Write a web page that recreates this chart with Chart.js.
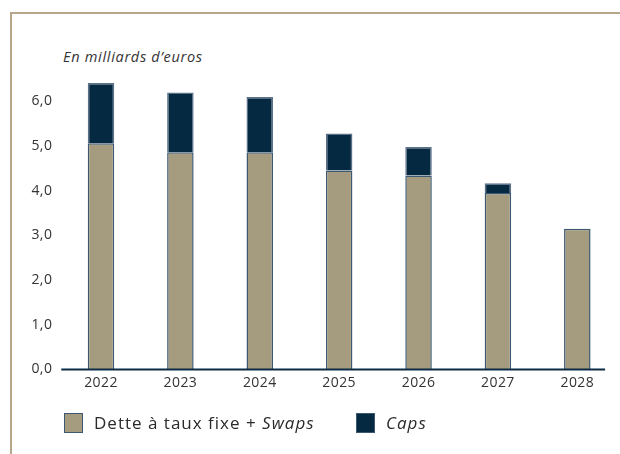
<!DOCTYPE html>
<html>
<head>
<meta charset="utf-8">
<script src="https://cdn.jsdelivr.net/npm/chart.js@4/dist/chart.umd.min.js"></script>
<style>
  html, body { margin: 0; padding: 0; background: #fff; }
  #wrap { position: relative; width: 620px; height: 454px; overflow: hidden; font-family: "Open Sans", sans-serif; }
  #frame { position: absolute; left: 10px; top: 12px; width: 620px; height: 460px; border-top: 2px solid #b4a78a; border-left: 2px solid #b4a78a; box-sizing: border-box; }
  #title { position: absolute; left: 63px; top: 47px; font-size: 14.5px; letter-spacing: 0.7px; font-style: italic; color: #333; white-space: nowrap; }
  canvas { position: absolute; left: 0; top: 0; }
  .leg { position: absolute; top: 411px; display: flex; align-items: center; font-size: 17px; letter-spacing: 1px; color: #2a2a2a; white-space: nowrap; }
  .box { width: 19px; height: 20px; box-sizing: border-box; border: 1.5px solid #3d5871; margin-right: 11px; }
</style>
</head>
<body>
<div id="wrap">
  <div id="frame"></div>
  <div id="title">En milliards d’euros</div>
  <canvas id="c" width="620" height="454"></canvas>
  <div class="leg" style="left:64px"><span class="box" style="background:#a59b7f"></span><span>Dette à taux fixe + <i>Swaps</i></span></div>
  <div class="leg" style="left:356px"><span class="box" style="background:#062942"></span><span><i>Caps</i></span></div>
</div>
<script>
const years = ['2022', '2023', '2024', '2025', '2026', '2027', '2028'];
const fixedSwaps = [5.06, 4.86, 4.86, 4.45, 4.34, 3.95, 3.15];
const caps = [1.35, 1.34, 1.24, 0.83, 0.64, 0.22, 0];
const yTicks = [0, 1, 2, 3, 4, 5, 6];

const baseline = {
  id: 'baseline',
  beforeDraw(chart) { chart.ctx.letterSpacing = '0.4px'; },
  afterDatasetsDraw(chart) {
    const { ctx, chartArea, scales } = chart;
    const y = scales.y.getPixelForValue(0);
    const xEnd = scales.x.getPixelForValue(years.length - 1) + scales.x.width / years.length * 0.35;
    ctx.save();
    ctx.strokeStyle = '#0b2a45';
    ctx.lineWidth = 2.2;
    ctx.beginPath();
    ctx.moveTo(chartArea.left, y);
    ctx.lineTo(xEnd, y);
    ctx.stroke();
    ctx.restore();
  }
};

new Chart(document.getElementById('c'), {
  type: 'bar',
  data: {
    labels: years,
    datasets: [
      { label: 'Dette à taux fixe + Swaps', data: fixedSwaps, backgroundColor: '#a59b7f', borderColor: '#3d5871', borderWidth: 1.5 },
      { label: 'Caps', data: caps, backgroundColor: '#062942', borderColor: '#5b7189', borderWidth: 1.5 }
    ]
  },
  options: {
    responsive: false,
    animation: false,
    events: [],
    layout: { padding: { top: 79, right: 3, left: 0, bottom: 0 } },
    datasets: { bar: { barPercentage: 0.334, categoryPercentage: 1 } },
    plugins: { legend: { display: false }, title: { display: false }, tooltip: { enabled: false } },
    scales: {
      x: {
        stacked: true,
        grid: { display: false, drawTicks: false },
        border: { display: false },
        ticks: { color: '#333', font: { family: 'Open Sans', size: 14 }, padding: 5, maxRotation: 0 },
        afterFit(s) { s.height = 84.5; }
      },
      y: {
        stacked: true,
        min: 0,
        max: 6.5,
        grid: { display: false, drawTicks: false },
        border: { display: false },
        ticks: {
          color: '#333', font: { family: 'Open Sans', size: 14 }, padding: 9,
          callback: v => v.toFixed(1).replace('.', ',')
        },
        afterBuildTicks(s) { s.ticks = yTicks.map(v => ({ value: v })); },
        afterFit(s) { s.width = 61.3; }
      }
    }
  },
  plugins: [baseline]
});
</script>
</body>
</html>
